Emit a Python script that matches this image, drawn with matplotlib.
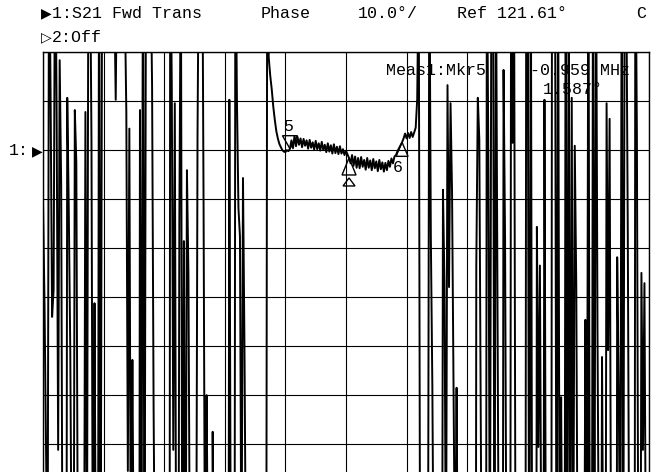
import numpy as np
import matplotlib
matplotlib.use("Agg")
import matplotlib.pyplot as plt
from matplotlib.patches import Polygon
from matplotlib.transforms import ScaledTranslation

# sweep settings
f_start, f_stop, n_points = 64.9, 75.1, 401   # MHz
ref_deg, scale_deg, ref_div = 121.61, 10.0, 2  # ref line is 2 div below top

# S21 phase (deg, wrapped)
phase_low = [
    111.4, 90.3, 62.3, 25, 168, 133.3, 87.5, 93.0, 172, 129.4,
    60.3, 140.0, 114.5, 20, -35, -80, 132.3, 109.8, 80.7, 30,
    -10, 129.8, 119.0, 35, -60, -120, -165, 15, 129.4, 30,
    170, 165, 123.3, 20, 90.3, 25, -40, 170, 20, 160,
    175, 178, 162, 150, 158, 171, 166, 155, 131.9, 165,
    172, 178, 168, 159, 152, 129.4, 56.0, 126.0, 30, 78.7,
    30, -20, -75, -130, 129.8, 30, 170, 20, 165, 172,
    178, 160, 134.9, 69.1, 25, -30, -90, -140, -175, 25,
    5, -50, -110, -160, 170, 134.9, 60.3, 131.2, 20, -40,
    107.3, 165, 20, 103.0, 10, 117.5, 96.1, 30, -25, -85,
    -140, 15, 125.1, 170, 165, 175, 109.4, 25, 71.5, 30,
    -30, -90, 64.0, 20, -40, -100, -150, 0, -60, -120,
    -175, -10, -70, 131.9, 30, -30, -95, 170, 132.3, 109.8,
    104.0, 30, 115.9, 80.7, 30, -30, -90, -150, 20, -40,
    -100, -160, 10, -50, -110, -170, 0, -60,
]
phase_pass = [
    165, 140.5, 136.8, 134.0, 130.5, 127.8, 125.5, 124.0, 122.9, 122.2,
    121.6, 121.3, 121.2, 121.6, 121.4, 121.9, 123.6, 122.0, 124.5, 122.4,
    124.3, 122.7, 124.0, 122.2, 123.9, 122.5, 123.6, 121.9, 123.7, 122.1,
    123.2, 121.7, 123.5, 121.8, 123.0, 121.5, 123.3, 121.6, 122.7, 121.2,
    123.0, 121.3, 122.6, 120.9, 122.8, 121.0, 122.3, 120.8, 122.4, 120.9,
    121.8, 120.6, 121.5, 120.7, 120.0, 118.9, 120.6, 118.4, 120.3, 118.0,
    120.0, 117.9, 120.2, 118.2, 119.6, 117.6, 120.0, 118.0, 119.5, 117.5,
    119.8, 117.9, 119.3, 117.3, 119.6, 117.7, 119.1, 117.2, 119.0, 117.5,
    119.4, 118.2, 119.9, 118.9, 120.3, 120.6, 121.4, 122.0, 122.6, 123.2,
    124.0, 125.0, 124.0, 125.1, 124.1, 125.3, 124.3, 125.2, 126.2, 132.0,
    160,
]
phase_high = [
    20, 30, -15, -70, -125, 10, 165, 103.8, 73.2, 25,
    -35, -95, -150, 5, -55, 113.5, 94.4, 30, 134.9, 93.6,
    131.2, 113.0, 73.2, 30, 73.0, 20, -40, -100, -160, 0,
    -60, -120, -175, 15, -45, -105, -165, 97.7, 132.3, 123.7,
    60.3, 25, -35, -95, 168, 117.5, 30, 165, 176, 20,
    160, 90.5, 20, -40, -100, 138.0, 103.2, 25, -35, -95,
    170, 123.1, 150, 20, -40, -100, -160, 10, -50, -110,
    170, 145, 20, 165, 10, -50, -110, 105.9, 60.9, 98.0,
    30, -30, 131.9, 25, -35, -95, -155, 170, 178, 156,
    20, 165, 30, 71.1, 15, -45, 170, 20, 160, 20,
    132.3, 30, 122.5, 93.6, 25, -35, -95, -155, 5, 86.9,
    30, 170, 20, -40, 160, 30, 170, 84.8, 30, -30,
    79.3, 20, -40, 131.2, 80.7, 128.0, 30, -30, -90, -150,
    99.7, 73.2, 30, 165, 20, 170, 158, 104.7, 30, -30,
    -90, -150, 170, 125.1, 30, -30, 96.5, 60.3, 94.4, 30,
    -30, -90,
]

# marker positions (sweep point index)
mkr_ref, mkr5, mkr6 = 202, 163, 237

freq = np.linspace(f_start, f_stop, n_points)
phase = np.array(phase_low + phase_pass + phase_high, dtype=float)
assert len(phase) == n_points

W, H = 651, 472
fig = plt.figure(figsize=(W / 100, H / 100), dpi=100)
fig.patch.set_facecolor("white")

# graticule geometry in pixels
left, top, right, div_px = 43, 52.3, 649, 48.9
ax = fig.add_axes([left / W, 1 - (top + 10 * div_px) / H,
                   (right - left) / W, 10 * div_px / H])
y_top = ref_deg + ref_div * scale_deg
ax.set_xlim(f_start, f_stop)
ax.set_ylim(y_top - 10 * scale_deg, y_top)
ax.set_xticks(np.linspace(f_start, f_stop, 11))
ax.set_yticks(y_top - scale_deg * np.arange(11))
ax.tick_params(length=0, labelleft=False, labelbottom=False)
ax.grid(True, color="black", lw=0.8)
ax.set_axisbelow(True)
for s in ax.spines.values():
    s.set_linewidth(1.0)

ax.plot(freq, phase, color="black", lw=1.4, zorder=3)


def marker_shape(idx, verts_px):
    tr = fig.dpi_scale_trans + ScaledTranslation(freq[idx], phase[idx], ax.transData)
    ax.add_patch(Polygon(np.array(verts_px) / 100.0, closed=True, fill=False,
                         ec="black", lw=1.0, transform=tr, clip_on=False, zorder=4))


mono = ["Liberation Mono", "DejaVu Sans"]

# active marker 5 (pointing down, label above)
marker_shape(mkr5, [(0, 0), (-7.5, 13), (7.5, 13)])
ax.annotate("5", (freq[mkr5], phase[mkr5]), xytext=(-2, 22),
            textcoords="offset pixels", ha="center", va="center",
            family=mono, fontsize=12, zorder=4)
# reference marker
marker_shape(mkr_ref, [(0, 0), (-7, -17), (7, -17)])
marker_shape(mkr_ref, [(0, -20), (-6, -28), (6, -28)])
# marker 6
marker_shape(mkr6, [(0, 0), (-6, -14), (6, -14)])
ax.annotate("6", (freq[mkr6], phase[mkr6]), xytext=(-4, -25),
            textcoords="offset pixels", ha="center", va="center",
            family=mono, fontsize=12, zorder=4)


def ptext(x, y, s, size=12):
    fig.text(x / W, 1 - y / H, s, ha="left", va="center",
             family=mono, fontsize=size)


ptext(41, 13, "\u25b6", size=10)
ptext(52, 13, "1:S21 Fwd Trans")
ptext(261, 13, "Phase")
ptext(358, 13, "10.0\u00b0/")
ptext(457, 13, "Ref 121.61\u00b0")
ptext(636, 13, "C")
ptext(41, 37, "\u25b7", size=10)
ptext(52, 37, "2:Off")
ptext(9, 151, "1:")
ptext(32, 151, "\u25b6", size=10)
ptext(386, 71, "Meas1:Mkr5")
ptext(530, 71, "-0.959 MHz")
ptext(543, 90, "1.587\u00b0")

fig.savefig("out.png", dpi=100, facecolor="white")
